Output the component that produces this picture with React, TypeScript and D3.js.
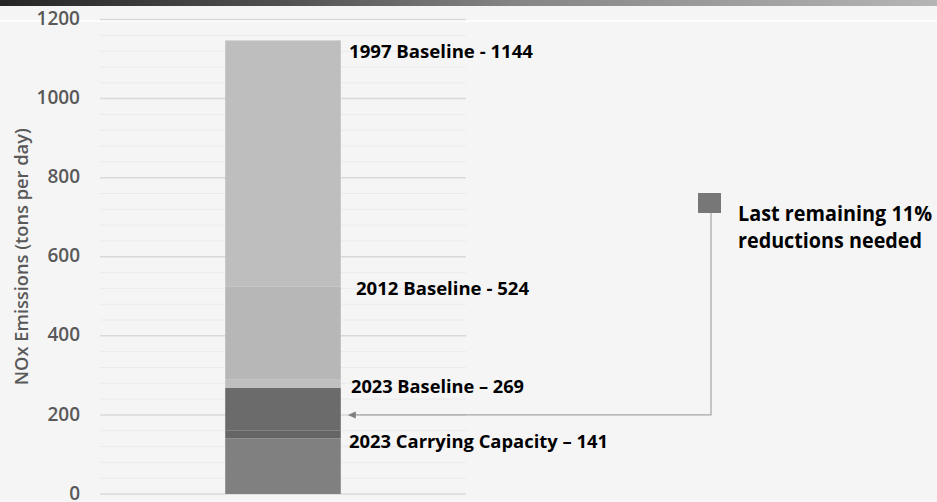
import React, { useEffect, useRef } from "react";
import * as d3 from "d3";

// stacked bar, bottom to top: upper bound of each band (tons per day)
const levels = [0, 141, 160, 269, 289, 524, 1147];
const bandColors = ["#808080", "#656565", "#6b6b6b", "#bfbfbf", "#b7b7b7", "#bebebe"];

const yTicks = [0, 200, 400, 600, 800, 1000, 1200];
const minorTicks = d3.range(0, 1201, 40);

const labelTexts = [
  "1997 Baseline - 1144",
  "2012 Baseline - 524",
  "2023 Baseline \u2013 269",
  "2023 Carrying Capacity \u2013 141",
];
const labelValues = [1144, 524, 269, 141];

const legendLines = ["Last remaining 11%", "reductions needed"];
const arrowValue = 200;

const W = 937;
const H = 502;

const App = () => {
  const ref = useRef<SVGSVGElement>(null);

  useEffect(() => {
    const svg = d3.select(ref.current);
    svg.selectAll("*").remove();

    const font = "'Open Sans', 'DejaVu Sans', sans-serif";
    const plot = { left: 100, right: 466, top: 19.5, bottom: 494 };

    const y = d3.scaleLinear().domain([0, 1200]).range([plot.bottom, plot.top]);
    const x = d3.scaleBand().domain(["NOx"]).range([plot.left, plot.right]).padding(0.52);

    svg.append("rect").attr("width", W).attr("height", H).attr("fill", "#f5f5f5");

    // header strip
    const defs = svg.append("defs");
    const grad = defs.append("linearGradient").attr("id", "hdr");
    grad.append("stop").attr("offset", "0%").attr("stop-color", "#262626");
    grad.append("stop").attr("offset", "30%").attr("stop-color", "#505050");
    grad.append("stop").attr("offset", "55%").attr("stop-color", "#858585");
    grad.append("stop").attr("offset", "100%").attr("stop-color", "#b5b5b5");
    svg.append("rect").attr("width", W).attr("height", 6).attr("fill", "url(#hdr)");
    svg.append("line").attr("x1", 0).attr("x2", W).attr("y1", 21).attr("y2", 21)
      .attr("stroke", "#ffffff").attr("stroke-width", 1.5);

    // gridlines
    svg.append("g").selectAll("line").data(minorTicks.filter((v) => v % 200 !== 0)).join("line")
      .attr("x1", plot.left).attr("x2", plot.right)
      .attr("y1", (d) => y(d)).attr("y2", (d) => y(d))
      .attr("stroke", "#ebebeb").attr("stroke-width", 1);
    svg.append("g").selectAll("line").data(yTicks).join("line")
      .attr("x1", plot.left).attr("x2", plot.right)
      .attr("y1", (d) => y(d)).attr("y2", (d) => y(d))
      .attr("stroke", "#d9d9d9").attr("stroke-width", 1.5);

    // tick labels
    svg.append("g").selectAll("text").data(yTicks).join("text")
      .attr("x", 80).attr("y", (d) => y(d) - 1).attr("dy", "0.35em")
      .attr("text-anchor", "end")
      .attr("font-family", font).attr("font-size", 19).attr("font-weight", 600)
      .attr("fill", "#595959")
      .text((d) => d);

    svg.append("text")
      .attr("transform", `translate(22,${(plot.top + plot.bottom) / 2 + 0}) rotate(-90)`)
      .attr("text-anchor", "middle").attr("dy", "0.35em")
      .attr("textLength", 257).attr("lengthAdjust", "spacingAndGlyphs")
      .attr("font-family", font).attr("font-size", 18).attr("font-weight", 600)
      .attr("fill", "#595959")
      .text("NOx Emissions (tons per day)");

    // stacked bar
    const bands = bandColors.map((c, i) => ({ lo: levels[i], hi: levels[i + 1], c }));
    svg.append("g").selectAll("rect").data(bands).join("rect")
      .attr("x", x("NOx")!).attr("width", x.bandwidth())
      .attr("y", (d) => y(d.hi)).attr("height", (d) => y(d.lo) - y(d.hi))
      .attr("fill", (d) => d.c);

    // annotations
    const labelDx = [349, 356, 351, 349];
    const labelDy = [10, 2, -1, 4];
    const labelLen = [184, 173, 173, 259];
    svg.append("g").selectAll("text").data(labelTexts).join("text")
      .attr("x", (_, i) => labelDx[i])
      .attr("y", (_, i) => y(labelValues[i]) + labelDy[i])
      .attr("dy", "0.35em")
      .attr("textLength", (_, i) => labelLen[i]).attr("lengthAdjust", "spacingAndGlyphs")
      .attr("font-family", font).attr("font-size", 17.5).attr("font-weight", 700)
      .attr("fill", "#000")
      .text((d) => d);

    // legend
    svg.append("rect").attr("x", 698).attr("y", 193).attr("width", 23).attr("height", 20)
      .attr("fill", "#777777");
    const legLen = [194, 184];
    svg.append("g").selectAll("text").data(legendLines).join("text")
      .attr("x", 738).attr("y", (_, i) => 221 + i * 27)
      .attr("textLength", (_, i) => legLen[i]).attr("lengthAdjust", "spacingAndGlyphs")
      .attr("font-family", font).attr("font-size", 20.5).attr("font-weight", 700)
      .attr("fill", "#000")
      .text((d) => d);

    // connector arrow
    const ay = y(arrowValue);
    const tipX = x("NOx")! + x.bandwidth() + 7;
    svg.append("path")
      .attr("d", `M711,213 V${ay} H${tipX + 6}`)
      .attr("fill", "none").attr("stroke", "#a6a6a6").attr("stroke-width", 1.2);
    svg.append("path")
      .attr("d", `M${tipX},${ay} L${tipX + 8},${ay - 3.5} L${tipX + 8},${ay + 3.5} Z`)
      .attr("fill", "#7f7f7f");
  }, []);

  return (
    <svg
      ref={ref}
      width={W}
      height={H}
      style={{ position: "absolute", left: 0, top: 0, display: "block" }}
    />
  );
};

export default App;
